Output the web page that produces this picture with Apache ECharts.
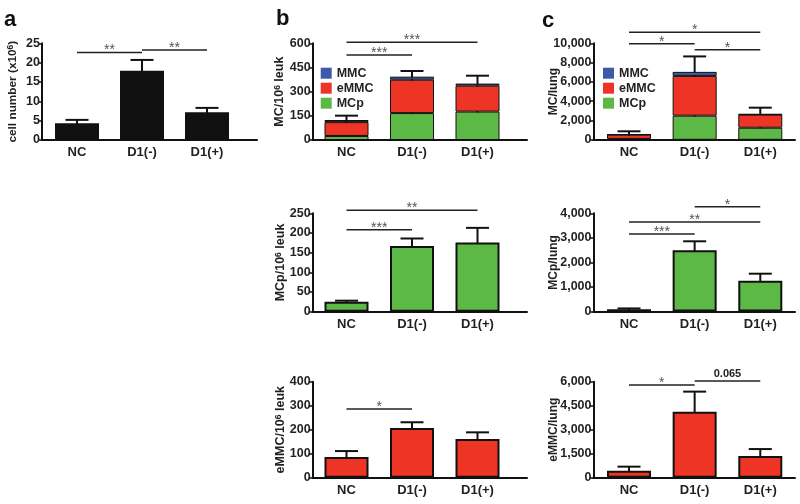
<!DOCTYPE html>
<html><head><meta charset="utf-8">
<script src="https://cdn.jsdelivr.net/npm/echarts@6/dist/echarts.min.js"></script>
<style>html,body{margin:0;padding:0;background:#fff}#c{width:800px;height:504px}</style>
</head><body><div id="c"></div>
<script>
// ---------------- data ----------------
const categories = ['NC', 'D1(-)', 'D1(+)'];

// panel a: cell number (x10^6)
const cellNumber = [4.3, 17.9, 7.2];
const cellNumberErr = [5.2, 20.7, 8.3];
const sigA = [[0, 1, 22.6, '**'], [1, 2, 23.3, '**']];

// panel b: per 10^6 leukocytes
const leukMCp = [25, 167, 176];
const leukEMMC = [86, 207, 161];
const leukMMC = [13, 19, 13];
const leukTotalErr = [151, 428, 399];
const leukMCpErr = [28, 186, 213];
const leukEMMCErr = [111, 231, 189];
const sigBTop = [[0, 2, 606, '***'], [0, 1, 527, '***']];
const sigBMid = [[0, 1, 208, '***'], [0, 2, 258, '**']];
const sigBBot = [[0, 1, 286, '*']];

// panel c: per lung
const lungMCp = [90, 2500, 1250];
const lungEMMC = [440, 4120, 1360];
const lungMMC = [20, 420, 50];
const lungTotalErr = [880, 8640, 3330];
const lungMCpErr = [125, 2860, 1540];
const lungEMMCErr = [690, 5380, 1790];
const sigCTop = [[0, 2, 11150, '*'], [0, 1, 9950, '*'], [1, 2, 9330, '*']];
const sigCMid = [[1, 2, 4270, '*'], [0, 2, 3650, '**'], [0, 1, 3160, '***']];
const sigCBot = [[0, 1, 5800, '*'], [1, 2, 6040, '0.065']];

const legendNames = ['MMC', 'eMMC', 'MCp'];

// ---------------- styling ----------------
const FONT = '"Liberation Sans", Arial, Helvetica, sans-serif';
const INK = '#111';
const TXT = '#231f20';
const GREEN = '#5cb946';
const RED = '#ee3424';
const BLUE = '#3b5ba8';
const BLACK = '#111';

const comma = v => String(v).replace(/\B(?=(\d{3})+(?!\d))/g, ',');
const plain = v => String(v);

const colB = { frame: [312.7, 527], data: [313.75, 510.25], nameSize: 12.5 };
const colC = { frame: [593.5, 795], data: [596.2, 793.1], nameSize: 12 };

const panels = [
  { frame: [42, 257], data: [44.5, 239.5], nameSize: 11.8, top: 43.3, bottom: 140, max: 25, interval: 5, fmt: plain,
    name: '{n|cell number (x10}{s|6}{n|)}', nameGap: 22,
    bars: [{ name: 'cell', values: cellNumber, color: BLACK }], border: 1.5, err: cellNumberErr, sig: sigA },
  { ...colB, top: 43.3, bottom: 140, max: 600, interval: 150, fmt: plain,
    name: '{n|MC/10}{s|6}{n| leuk}', nameGap: 26,
    bars: [{ name: 'MCp', values: leukMCp, color: GREEN }, { name: 'eMMC', values: leukEMMC, color: RED }, { name: 'MMC', values: leukMMC, color: BLUE }],
    border: 1, err: leukTotalErr, sig: sigBTop },
  { ...colC, top: 43.3, bottom: 139.8, max: 10000, interval: 2000, fmt: comma,
    name: '{n|MC/lung}', nameGap: 33,
    bars: [{ name: 'MCp', values: lungMCp, color: GREEN }, { name: 'eMMC', values: lungEMMC, color: RED }, { name: 'MMC', values: lungMMC, color: BLUE }],
    border: 1, err: lungTotalErr, sig: sigCTop },
  { ...colB, top: 213.3, bottom: 311.7, max: 250, interval: 50, fmt: plain,
    name: '{n|MCp/10}{s|6}{n| leuk}', nameGap: 25,
    bars: [{ name: 'MCp', values: leukMCp, color: GREEN }], border: 2, err: leukMCpErr, sig: sigBMid },
  { ...colC, top: 213.3, bottom: 311.5, max: 4000, interval: 1000, fmt: comma,
    name: '{n|MCp/lung}', nameGap: 33,
    bars: [{ name: 'MCp', values: lungMCp, color: GREEN }], border: 2, err: lungMCpErr, sig: sigCMid },
  { ...colB, top: 381.7, bottom: 477.7, max: 400, interval: 100, fmt: plain,
    name: '{n|eMMC/10}{s|6}{n| leuk}', nameGap: 25,
    bars: [{ name: 'eMMC', values: leukEMMC, color: RED }], border: 2, err: leukEMMCErr, sig: sigBBot },
  { ...colC, top: 381.7, bottom: 477.7, max: 6000, interval: 1500, fmt: comma,
    name: '{n|eMMC/lung}', nameGap: 33,
    bars: [{ name: 'eMMC', values: lungEMMC, color: RED }], border: 2, err: lungEMMCErr, sig: sigCBot }
];

const grid = [], xAxis = [], yAxis = [], series = [];

panels.forEach((p, i) => {
  const fi = 2 * i, di = 2 * i + 1;
  const h = p.bottom - p.top;
  grid.push({ left: p.frame[0], top: p.top, width: p.frame[1] - p.frame[0], height: h });
  grid.push({ left: p.data[0], top: p.top, width: p.data[1] - p.data[0], height: h });

  xAxis.push({ gridIndex: fi, type: 'value', min: 0, max: 1,
    axisLine: { show: true, lineStyle: { color: INK, width: 2 } },
    axisTick: { show: false }, axisLabel: { show: false }, splitLine: { show: false } });
  yAxis.push({ gridIndex: fi, type: 'value', min: 0, max: p.max, interval: p.interval,
    axisLine: { show: true, lineStyle: { color: INK, width: 2 } },
    axisTick: { show: true, length: 4, lineStyle: { color: INK, width: 1.5 } },
    axisLabel: { fontFamily: FONT, fontWeight: 'bold', fontSize: 12.5, color: TXT, margin: 2, formatter: p.fmt },
    splitLine: { show: false },
    name: p.name, nameLocation: 'middle', nameGap: p.nameGap, nameRotate: 90, nameMoveOverlap: false,
    nameTextStyle: { fontFamily: FONT, fontWeight: 'bold', fontSize: p.nameSize, color: TXT,
      rich: { n: { fontFamily: FONT, fontWeight: 'bold', fontSize: p.nameSize, color: TXT, lineHeight: 14 },
              s: { fontFamily: FONT, fontWeight: 'bold', fontSize: 8.5, color: TXT, verticalAlign: 'top', lineHeight: 14 } } } });

  xAxis.push({ gridIndex: di, type: 'category', data: categories,
    axisLine: { show: false }, axisTick: { show: false }, splitLine: { show: false },
    axisLabel: { fontFamily: FONT, fontWeight: 'bold', fontSize: 13, color: TXT, margin: 6 } });
  yAxis.push({ gridIndex: di, type: 'value', min: 0, max: p.max, show: false, splitLine: { show: false } });

  p.bars.forEach(b => {
    series.push({ type: 'bar', name: b.name, xAxisIndex: di, yAxisIndex: di, stack: 'st' + i,
      barWidth: 44, z: 2, data: b.values,
      itemStyle: { color: b.color, borderColor: INK, borderWidth: p.border } });
  });

  // error bars (upper whisker); drawn under the bars so only the part above shows
  series.push({ type: 'custom', xAxisIndex: di, yAxisIndex: di, z: 1, clip: false,
    data: p.err.map((v, k) => [k, v]),
    renderItem: (params, api) => {
      const t = api.coord([api.value(0), api.value(1)]);
      const b = api.coord([api.value(0), 0]);
      const st = { stroke: INK, lineWidth: 2 };
      return { type: 'group', children: [
        { type: 'line', shape: { x1: t[0], y1: b[1], x2: t[0], y2: t[1] }, style: st },
        { type: 'line', shape: { x1: t[0] - 11.5, y1: t[1], x2: t[0] + 11.5, y2: t[1] }, style: st }
      ] };
    } });

  // significance brackets
  const sig = p.sig;
  series.push({ type: 'custom', xAxisIndex: di, yAxisIndex: di, z: 5, clip: false,
    data: sig.map(s => [s[0], s[1], s[2]]),
    encode: { x: [0, 1], y: 2 },
    renderItem: (params, api) => {
      const a = api.coord([api.value(0), api.value(2)]);
      const c = api.coord([api.value(1), api.value(2)]);
      const lab = sig[params.dataIndex][3];
      const isStar = lab.indexOf('*') >= 0;
      return { type: 'group', children: [
        { type: 'line', shape: { x1: a[0], y1: a[1], x2: c[0], y2: c[1] }, style: { stroke: '#222', lineWidth: 1.5 } },
        { type: 'text', style: { text: lab, x: (a[0] + c[0]) / 2, y: isStar ? a[1] + 5 : a[1] - 2,
            align: 'center', verticalAlign: 'bottom',
            font: (isStar ? 'normal 14px ' : 'bold 11px ') + FONT,
            fill: isStar ? '#555' : '#222' } }
      ] };
    } });
});

const legendBase = { data: legendNames, orient: 'vertical', padding: 0, itemWidth: 11, itemHeight: 11, itemGap: 2,
  icon: 'rect', selectedMode: false,
  itemStyle: { borderWidth: 0 },
  textStyle: { fontFamily: FONT, fontWeight: 'bold', fontSize: 12.5, color: TXT, lineHeight: 11, padding: [0, 0, 0, 0] } };

const titleStyle = { fontFamily: FONT, fontWeight: 'bold', fontSize: 22, color: INK };
const option = {
  animation: false,
  backgroundColor: '#fff',
  title: [
    { text: 'a', left: 4, top: 9, padding: 0, textStyle: titleStyle },
    { text: 'b', left: 276, top: 8, padding: 0, textStyle: titleStyle },
    { text: 'c', left: 542, top: 10, padding: 0, textStyle: titleStyle }
  ],
  legend: [
    { ...legendBase, left: 320.7, top: 66.7 },
    { ...legendBase, left: 603, top: 66.7 }
  ],
  grid, xAxis, yAxis, series
};

const chart = echarts.init(document.getElementById('c'), null, { renderer: 'canvas' });
chart.setOption(option);
</script>
</body></html>
